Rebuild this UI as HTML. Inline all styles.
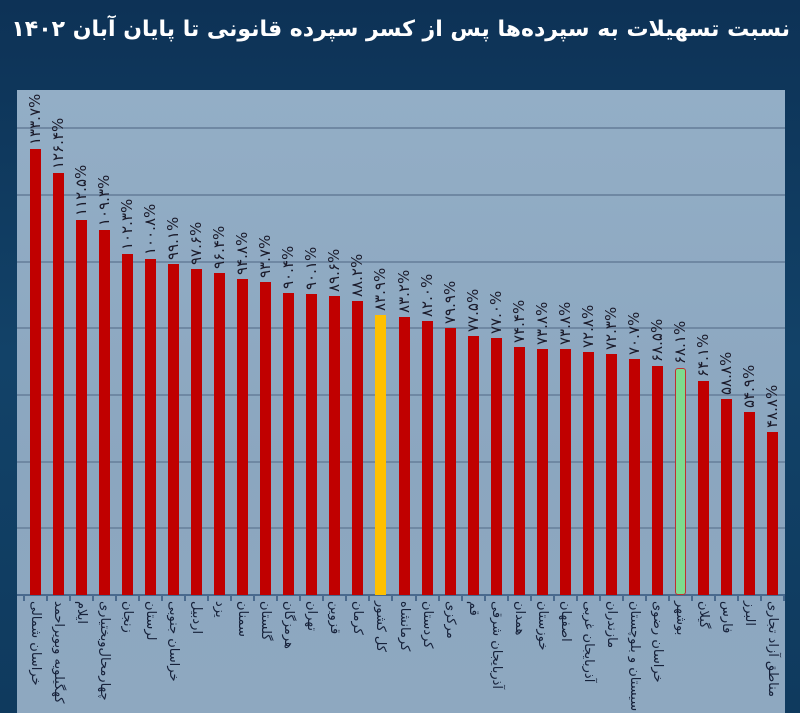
<!DOCTYPE html>
<html><head><meta charset="utf-8"><style>
body{margin:0;width:800px;height:713px;overflow:hidden;background:linear-gradient(180deg,#0d3256 0%,#124268 50%,#0f3a5e 100%);font-family:"Liberation Sans","Noto Sans CJK SC",sans-serif;position:relative}
#title{position:absolute;right:10px;top:17px;color:#fff;font-weight:bold;font-size:22px;direction:rtl;white-space:nowrap;font-family:"DejaVu Sans",sans-serif}
#plot{position:absolute;left:17px;top:90px;width:768px;height:623px;background:linear-gradient(180deg,#93aec6 0%,#8ba6bf 60%,#8ea8c0 100%)}
.g{position:absolute;left:17px;width:768px;height:2px;background:#6f88a3}
.bar{position:absolute;width:11px;background:#c00000}
.v{position:absolute;transform:rotate(-90deg);transform-origin:0 0;white-space:nowrap;direction:ltr;font-size:15px;line-height:15px;color:#1a1a2a;font-family:"DejaVu Sans",sans-serif}
.c{position:absolute;transform:rotate(90deg);transform-origin:0 0;white-space:nowrap;direction:rtl;font-size:13px;line-height:15px;color:#16213a;font-family:"DejaVu Sans",sans-serif}
.t{position:absolute;top:595px;width:2px;height:6px;background:#4a6a8e}
#axis{position:absolute;left:17px;top:594px;width:768px;height:2px;background:#4a6a8e}
</style></head><body>
<div id="title">نسبت تسهیلات به سپرده‌ها پس از کسر سپرده قانونی تا پایان آبان ۱۴۰۲</div>
<div id="plot"></div>
<div id="c"></div>
<script>
(function(){
var vals=[133.7,126.4,112.5,109.3,102.3,100.8,99.1,97.6,96.4,94.8,93.7,90.4,90.1,89.6,88.2,83.9,83.2,82.0,79.9,77.5,77.0,74.4,73.8,73.8,72.8,72.3,70.7,68.5,68.1,64.1,58.8,54.9,48.8];
var names=["خراسان شمالی","کهگیلویه وبویراحمد","ایلام","چهارمحال‌وبختیاری","زنجان","لرستان","خراسان جنوبی","اردبیل","یزد","سمنان","گلستان","هرمزگان","تهران","قزوین","کرمان","کل کشور","کرمانشاه","کردستان","مرکزی","قم","آذربایجان شرقی","همدان","خوزستان","اصفهان","آذربایجان غربی","مازندران","سیستان و بلوچستان","خراسان رضوی","بوشهر","گیلان","فارس","البرز","مناطق آزاد تجاری"];
function fa(s){return s.replace(/[0-9]/g,function(d){return "۰۱۲۳۴۵۶۷۸۹"[d]})}
var h="";
for(var k=1;k<=7;k++){h+='<div class="g" style="top:'+(595-66.7*k-1)+'px"></div>'}
h+='<div id="axis"></div>';
var step=(784-24)/33;
for(var i=0;i<=33;i++){h+='<div class="t" style="left:'+(23+step*i)+'px"></div>'}
for(var i=0;i<33;i++){
 var cx=24+step*(i+0.5), bt=595-vals[i]*3.336;
 var col=i==15?'#ffc000':(i==28?'#7ddb8d;border:1px solid #c03030;border-radius:3px;box-sizing:border-box':'#c00000');
 h+='<div class="bar" style="left:'+(cx-5.5)+'px;top:'+bt+'px;height:'+(595-bt)+'px;background:'+col+'"></div>';
 h+='<div class="v" style="left:'+(cx-7.5)+'px;top:'+(bt-4)+'px">'+fa(vals[i].toFixed(1))+'%</div>';
 h+='<div class="c" style="left:'+(cx+7.5)+'px;top:601px">'+names[i]+'</div>';
}
document.getElementById('c').innerHTML=h;
})();
</script>
</body></html>
